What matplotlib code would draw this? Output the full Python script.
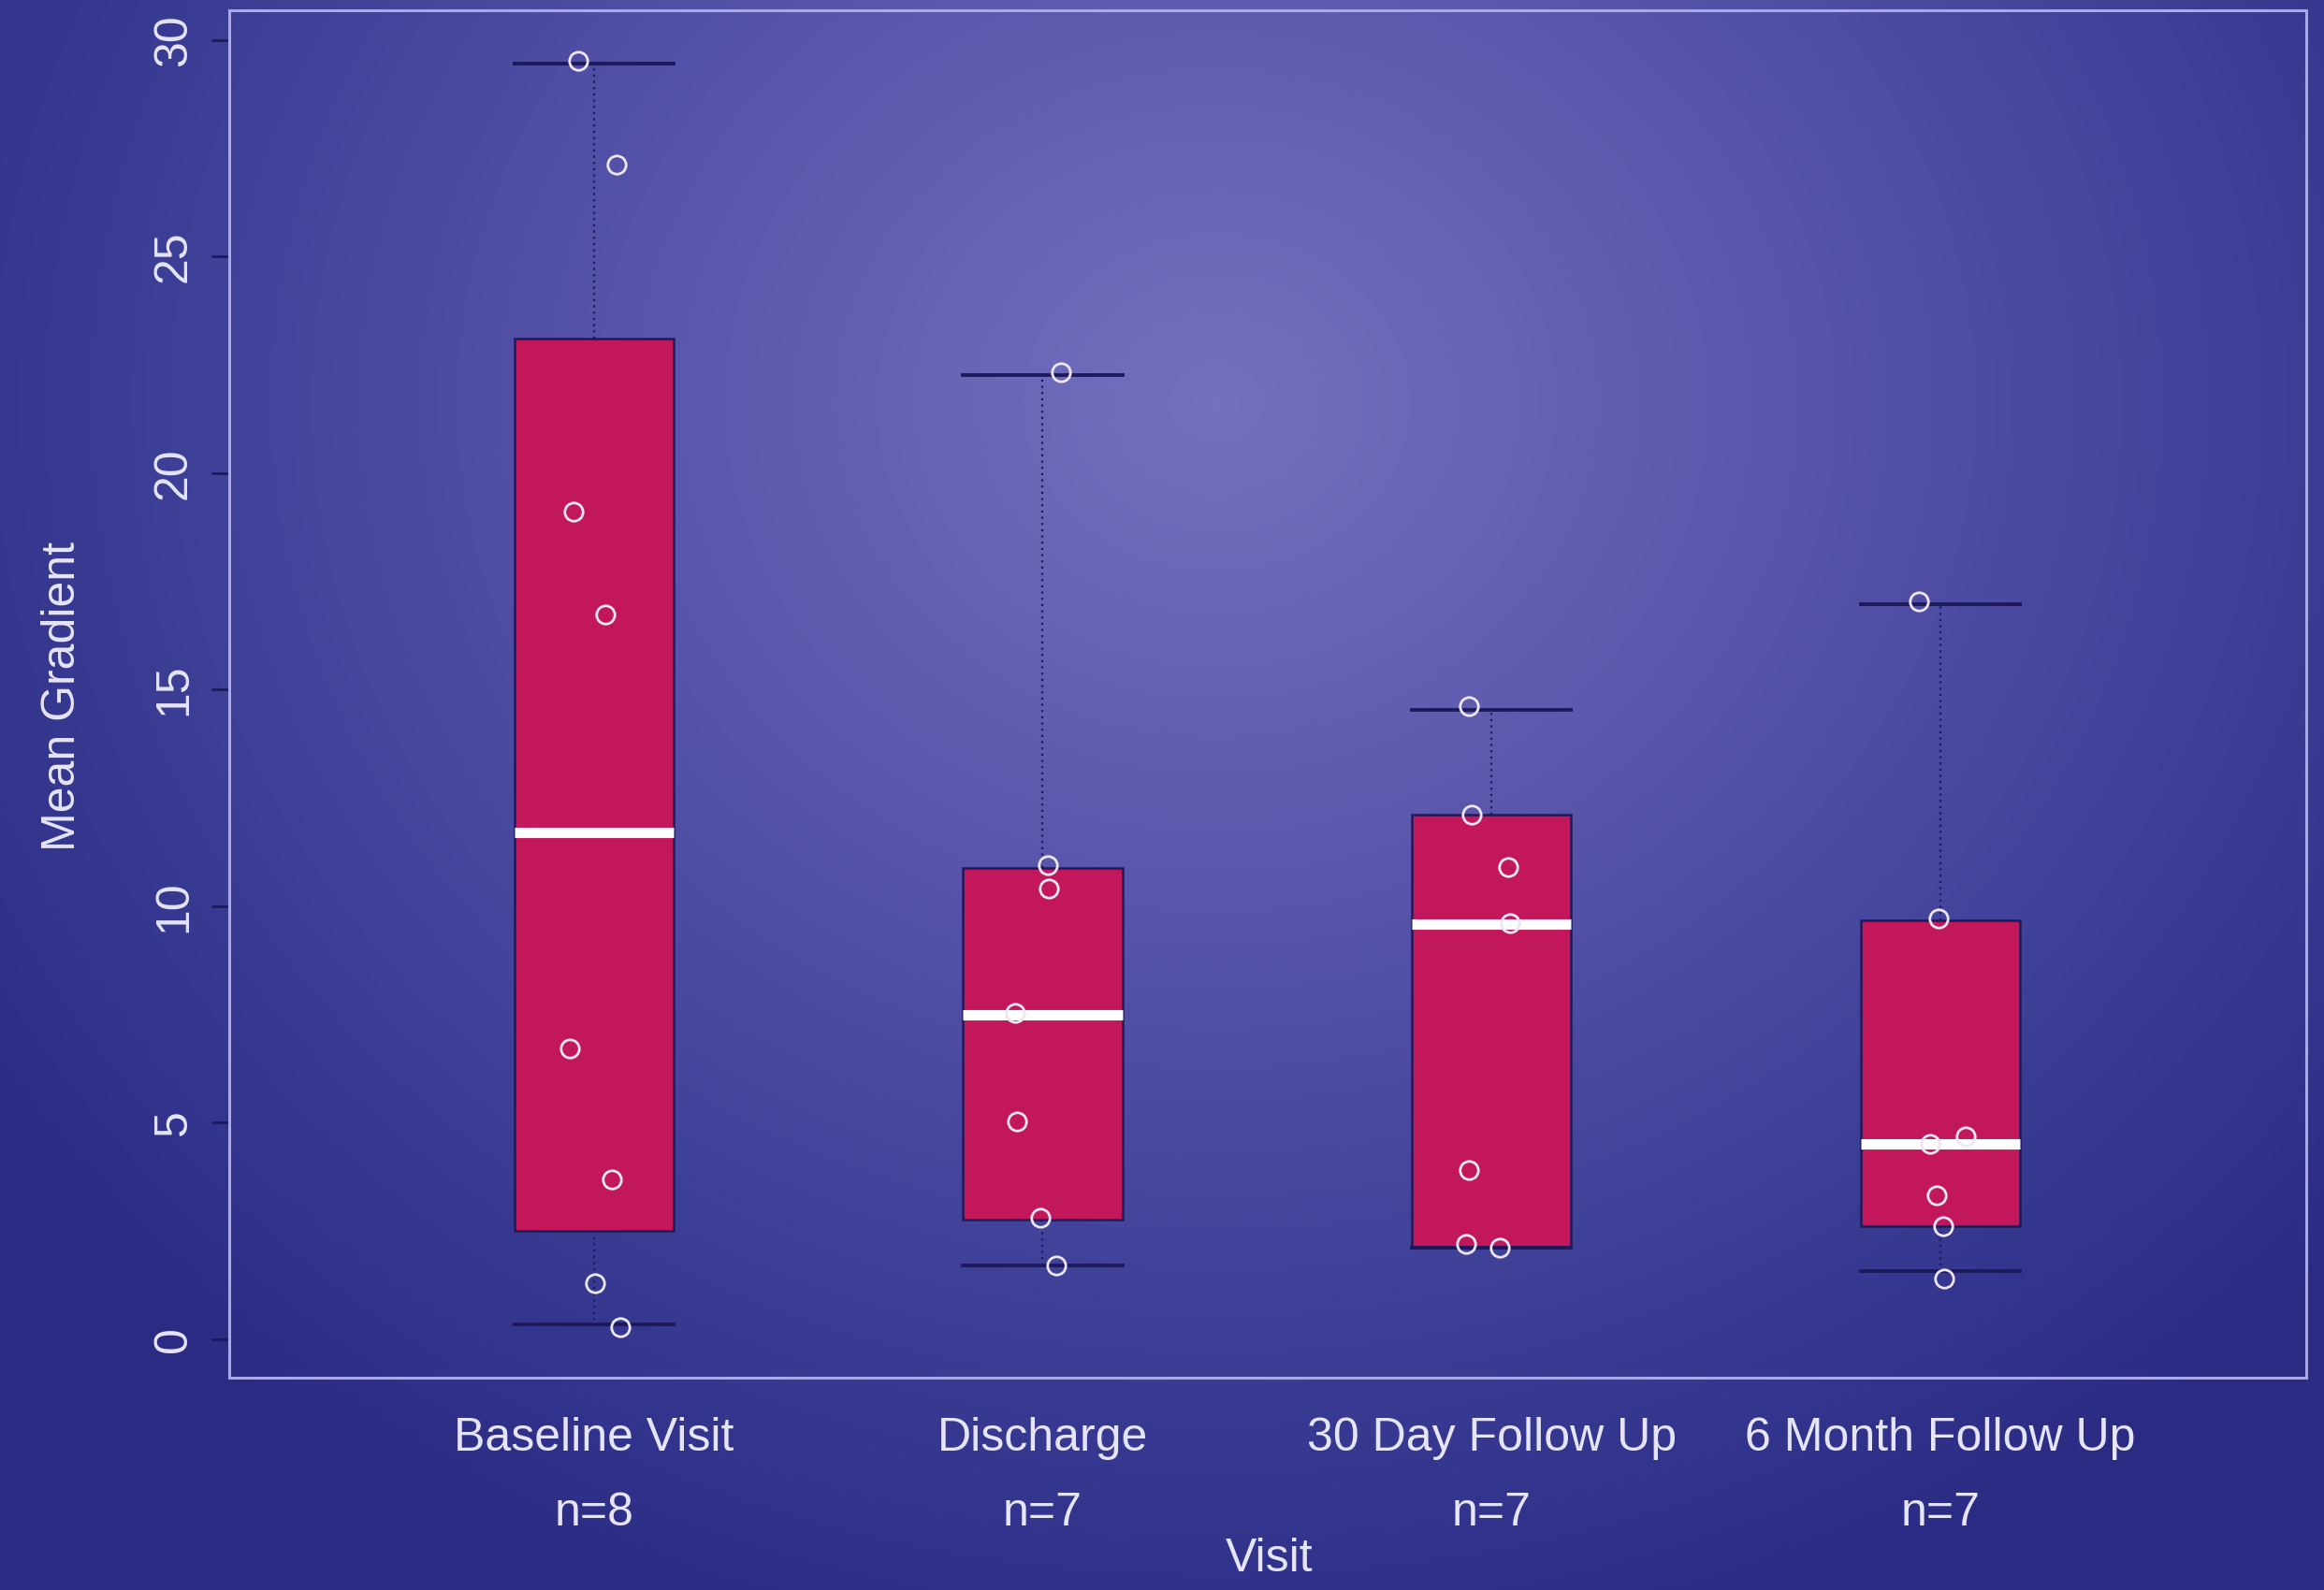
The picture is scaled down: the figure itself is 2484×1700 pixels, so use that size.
import matplotlib
matplotlib.use("Agg")
import matplotlib.pyplot as plt
import numpy as np
from matplotlib.colors import LinearSegmentedColormap

plt.rcParams['font.family'] = ['Liberation Sans', 'DejaVu Sans']

visits = ["Baseline Visit", "Discharge", "30 Day Follow Up", "6 Month Follow Up"]
counts = [8, 7, 7, 7]

# box summary
q1 = [2.50, 2.77, 2.12, 2.60]
med = [11.70, 7.49, 9.58, 4.52]
q3 = [23.10, 10.88, 12.11, 9.68]
whislo = [0.34, 1.71, 2.12, 1.57]
whishi = [29.46, 22.27, 14.54, 16.97]

# individual patients (values and the jitter seen in the picture)
baseline = [29.52, 27.13, 19.12, 16.73, 6.71, 3.69, 1.30, 0.27]
baseline_jit = [-0.036, 0.050, -0.046, 0.026, -0.053, 0.040, 0.003, 0.059]
discharge = [22.34, 10.95, 10.40, 7.53, 5.03, 2.81, 1.71]
discharge_jit = [0.041, 0.011, 0.014, -0.062, -0.058, -0.006, 0.031]
day30 = [14.61, 12.11, 10.91, 9.61, 3.90, 2.19, 2.12]
day30_jit = [-0.051, -0.044, 0.038, 0.042, -0.051, -0.057, 0.019]
month6 = [17.04, 9.72, 4.69, 4.52, 3.32, 2.60, 1.40]
month6_jit = [-0.047, -0.004, 0.056, -0.023, -0.007, 0.006, 0.010]

points = [baseline, discharge, day30, month6]
jitter = [baseline_jit, discharge_jit, day30_jit, month6_jit]

txt = '#e6e4f8'
navy = '#1d1a5c'

fig = plt.figure(figsize=(24.84, 17), dpi=100)

# radial background
bg = fig.add_axes([0, 0, 1, 1], zorder=0)
yy, xx = np.mgrid[0:1700, 0:2484]
r = np.sqrt(((xx - 1300) / 1600.0) ** 2 + ((yy - 430) / 1400.0) ** 2)
r = np.clip(r, 0, 1)
cmap = LinearSegmentedColormap.from_list(
    'bg', [(0, '#7571c0'), (0.4, '#5754aa'), (0.75, '#3a3c94'), (1, '#2b2b84')])
bg.imshow(r, cmap=cmap, vmin=0, vmax=1, aspect='auto', interpolation='bilinear')
bg.axis('off')

ax = fig.add_axes([245 / 2484, 1 - 1473 / 1700, 2220 / 2484, 1462 / 1700], zorder=1)
ax.patch.set_alpha(0)

pos = np.arange(1, len(visits) + 1)
stats = []
for i in range(len(visits)):
    stats.append({'q1': q1[i], 'med': med[i], 'q3': q3[i],
                  'whislo': whislo[i], 'whishi': whishi[i], 'fliers': []})

ax.bxp(stats, positions=pos, widths=0.355, capwidths=0.355, patch_artist=True,
       showfliers=False,
       boxprops=dict(facecolor='#c3175c', edgecolor=navy, linewidth=1.8),
       medianprops=dict(color='white', linewidth=8, solid_capstyle='butt'),
       whiskerprops=dict(color=navy, linewidth=1.6, linestyle=(0, (1, 2))),
       capprops=dict(color=navy, linewidth=2.8))

for i in range(len(visits)):
    ax.plot(pos[i] + np.array(jitter[i]), points[i], 'o', ms=14, mfc='none',
            mec='#ece6f6', mew=2, zorder=5)

ax.set_xlim(0.187, 4.816)
ax.set_ylim(-0.89, 30.69)

ax.set_yticks([0, 5, 10, 15, 20, 25, 30])
ax.set_yticklabels(['0', '5', '10', '15', '20', '25', '30'], rotation=90, va='center')
ax.set_xticks(pos)
ax.set_xticklabels([v + "\nn=" + str(n) for v, n in zip(visits, counts)], linespacing=1.95)
ax.tick_params(axis='y', length=14, width=2, color=navy, labelsize=36, labelcolor=txt, pad=12)
ax.tick_params(axis='x', length=0, labelsize=36, labelcolor=txt, pad=30)

for s in ax.spines.values():
    s.set_color('#a9a8ec')
    s.set_linewidth(2.2)

fig.text(67 / 2484, 1 - 745 / 1700, "Mean Gradient", rotation=90, ha='center', va='center',
         fontsize=36, color=txt)
fig.text(1357 / 2484, 1 - 1667 / 1700, "Visit", ha='center', va='center',
         fontsize=36, color=txt)

fig.savefig("out.png", dpi=100)
